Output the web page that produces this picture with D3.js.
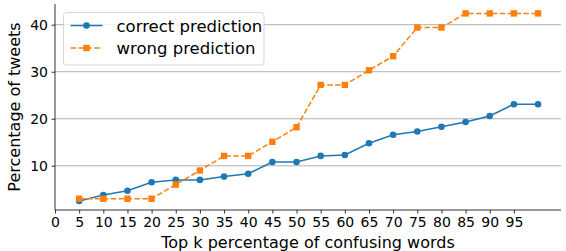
<!DOCTYPE html>
<html>
<head>
<meta charset="utf-8">
<script src="https://cdn.jsdelivr.net/npm/d3@7"></script>
<style>
  body { margin: 0; background: #fff; }
  text { font-family: "DejaVu Sans", sans-serif; fill: #000; }
</style>
</head>
<body>
<svg width="566" height="251"></svg>
<script>
const topK = [5, 10, 15, 20, 25, 30, 35, 40, 45, 50, 55, 60, 65, 70, 75, 80, 85, 90, 95, 100];
const correctPred = [2.5, 3.8, 4.7, 6.5, 7.0, 7.0, 7.7, 8.3, 10.8, 10.8, 12.1, 12.3, 14.8, 16.6, 17.3, 18.3, 19.3, 20.6, 23.1, 23.1];
const wrongPred = [3.0, 3.0, 3.0, 3.0, 6.0, 9.0, 12.1, 12.1, 15.1, 18.2, 27.2, 27.2, 30.3, 33.3, 39.4, 39.4, 42.4, 42.4, 42.4, 42.4];
const xTicks = [0, 5, 10, 15, 20, 25, 30, 35, 40, 45, 50, 55, 60, 65, 70, 75, 80, 85, 90, 95];
const yTicks = [10, 20, 30, 40];
const seriesNames = ["correct prediction", "wrong prediction"];

const margin = {top: 4, right: 5, bottom: 41, left: 55};
const width = 566 - margin.left - margin.right,
      height = 251 - margin.top - margin.bottom;

const svg = d3.select("svg")
const g = svg.append("g")
    .attr("transform", `translate(${margin.left}, ${margin.top})`)

const x = d3.scaleLinear()
    .domain([0, 104.75])
    .range([0, width])

const y = d3.scaleLinear()
    .domain([0.6, 44.4])
    .range([height, 0])

// grid lines
g.append("g")
  .selectAll("line")
  .data(yTicks)
  .join("line")
    .attr("x1", 0)
    .attr("x2", width)
    .attr("y1", d => y(d))
    .attr("y2", d => y(d))
    .attr("stroke", "#b0b0b0")
    .attr("stroke-width", 1)

// axes
const xAxis = g.append("g")
    .attr("transform", `translate(0, ${height})`)
    .call(d3.axisBottom(x).tickValues(xTicks).tickSize(3.5).tickPadding(3.5))
const yAxis = g.append("g")
    .call(d3.axisLeft(y).tickValues(yTicks).tickSize(3.5).tickPadding(3.5))

for (const ax of [xAxis, yAxis]) {
  ax.selectAll("text").attr("font-size", "14px").attr("font-family", "DejaVu Sans")
  ax.selectAll("line").attr("stroke", "#000").attr("stroke-width", 0.8)
  ax.select(".domain").attr("stroke", "#000").attr("stroke-width", 0.8)
}
xAxis.select(".domain").attr("d", `M0,0H${width}`)
yAxis.select(".domain").attr("d", `M0,${height}V0`)

// labels
g.append("text")
    .attr("x", 253)
    .attr("y", height + 38)
    .attr("font-size", "16px")
    .attr("text-anchor", "middle")
    .text("Top k percentage of confusing words")

g.append("text")
    .attr("x", -(height / 2))
    .attr("y", -35)
    .attr("font-size", "16px")
    .attr("text-anchor", "middle")
    .attr("transform", "rotate(-90)")
    .text("Percentage of tweets")

const line = d3.line().x(d => x(d[0])).y(d => y(d[1]))

// correct prediction
const blue = "#1f77b4", orange = "#ff7f0e";
g.append("path")
    .datum(topK.map((k, i) => [k, correctPred[i]]))
    .attr("d", line)
    .attr("fill", "none")
    .attr("stroke", blue)
    .attr("stroke-width", 1.5)
g.append("g")
  .selectAll("circle")
  .data(topK.map((k, i) => [k, correctPred[i]]))
  .join("circle")
    .attr("cx", d => x(d[0]))
    .attr("cy", d => y(d[1]))
    .attr("r", 3.3)
    .attr("fill", blue)

// wrong prediction
g.append("path")
    .datum(topK.map((k, i) => [k, wrongPred[i]]))
    .attr("d", line)
    .attr("fill", "none")
    .attr("stroke", orange)
    .attr("stroke-width", 1.5)
    .attr("stroke-dasharray", "5.5,2.4")
g.append("g")
  .selectAll("rect")
  .data(topK.map((k, i) => [k, wrongPred[i]]))
  .join("rect")
    .attr("x", d => x(d[0]) - 3.2)
    .attr("y", d => y(d[1]) - 3.2)
    .attr("width", 6.4)
    .attr("height", 6.4)
    .attr("fill", orange)

// legend
const lg = svg.append("g").attr("transform", "translate(63.5, 12.5)")
lg.append("rect")
    .attr("width", 200.5)
    .attr("height", 52.5)
    .attr("rx", 3)
    .attr("fill", "#fff")
    .attr("fill-opacity", 0.8)
    .attr("stroke", "#d6d6d6")
    .attr("stroke-width", 1)

seriesNames.forEach((name, i) => {
  const yy = 13 + i * 22.5
  const c = i === 0 ? blue : orange
  lg.append("line")
      .attr("x1", 7).attr("x2", 39)
      .attr("y1", yy).attr("y2", yy)
      .attr("stroke", c)
      .attr("stroke-width", 1.5)
      .attr("stroke-dasharray", i === 0 ? null : "5.5,2.4")
  if (i === 0) {
    lg.append("circle").attr("cx", 23).attr("cy", yy).attr("r", 3.3).attr("fill", c)
  } else {
    lg.append("rect").attr("x", 19.8).attr("y", yy - 3.2).attr("width", 6.4).attr("height", 6.4).attr("fill", c)
  }
  lg.append("text")
      .attr("x", 53)
      .attr("y", yy + 6)
      .attr("font-size", "16.5px")
      .text(name)
})
</script>
</body>
</html>
